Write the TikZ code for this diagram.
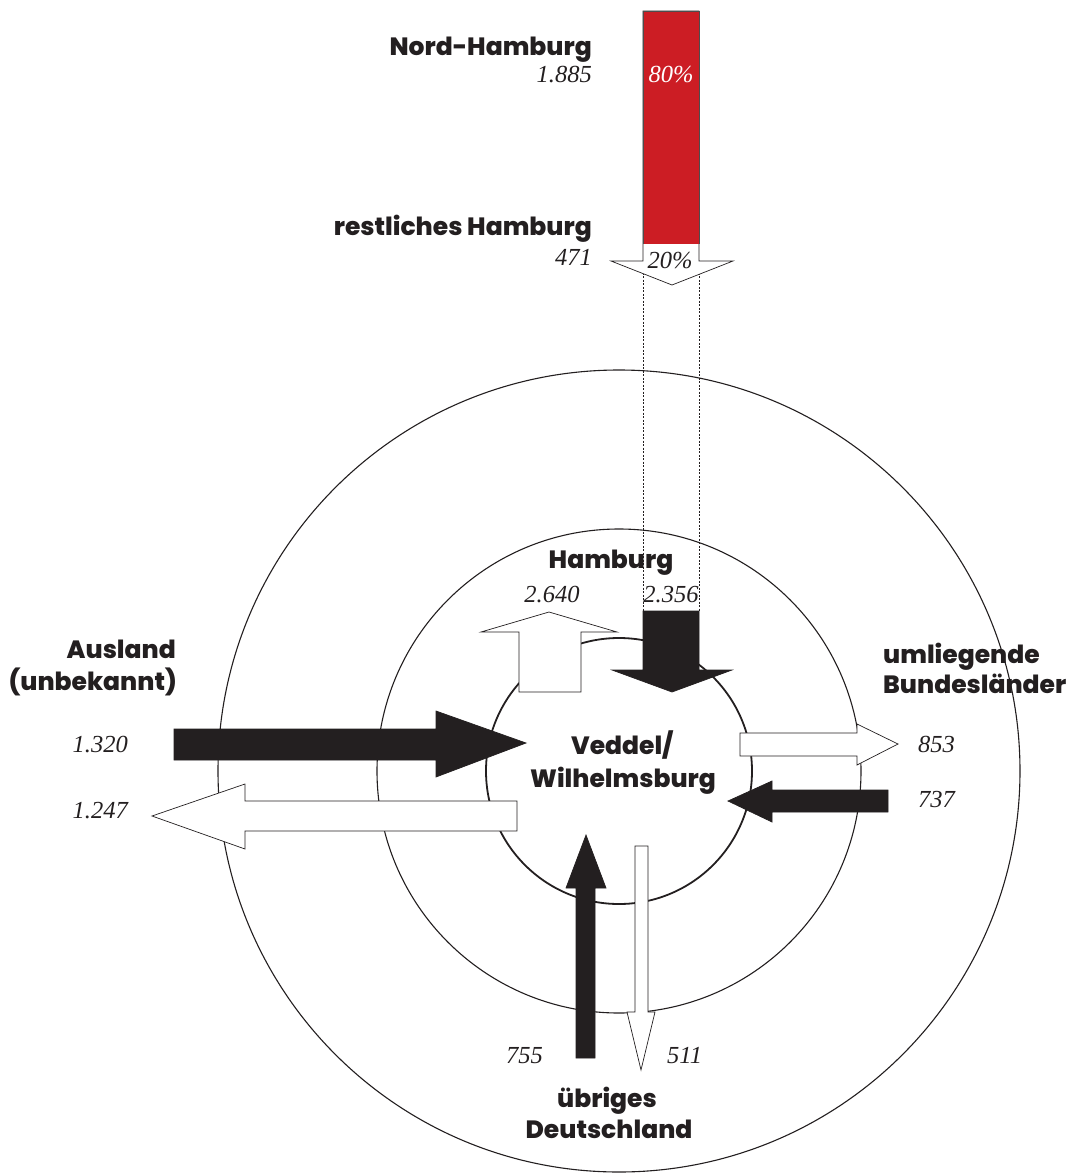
\documentclass[tikz,border=0pt]{standalone}
\usepackage{fontspec}
\setmainfont{Liberation Serif}
\newfontfamily\placefont{Poppins}[BoldFont={Poppins ExtraBold}]
\definecolor{flowdark}{HTML}{231F20}
\definecolor{flowred}{HTML}{CC1D24}
\tikzset{
  place/.style={font=\placefont\bfseries\fontsize{25}{29}\selectfont, inner sep=0pt, text=flowdark},
  num/.style={font=\itshape\fontsize{24.5}{28}\selectfont, inner sep=0pt, text=flowdark},
  ring/.style={draw=flowdark, line width=1.1pt},
  flowblack/.style={fill=flowdark, draw=flowdark, line width=0.7pt, line join=miter},
  flowwhite/.style={fill=white, draw=flowdark, line width=0.7pt, line join=miter},
  guide/.style={draw=flowdark, line width=0.7pt, dash pattern=on 2pt off 1.5pt}
}
\begin{document}
\begin{tikzpicture}[x=1pt,y=-1pt]
\useasboundingbox (0,0) rectangle (1073,1173);

% rings around the district
\coordinate (c) at (619,771);
\draw[ring] (c) circle[radius=401];
\draw[ring] (c) circle[radius=242];
\draw[ring, line width=1.8pt] (c) circle[radius=133];

% guide lines linking the split bar to the inflow arrow
\coordinate (g1a) at (643,262);
\coordinate (g1b) at (643,611);
\coordinate (g2a) at (699,262);
\coordinate (g2b) at (699,611);
\draw[guide] (g1a) -- (g1b);
\draw[guide] (g2a) -- (g2b);

% split bar: Nord-Hamburg / restliches Hamburg
\filldraw[flowwhite] (643,11) -- (699,11) -- (699,261) -- (733,261) -- (672,285)
  -- (611,261) -- (643,261) -- cycle;
\fill[flowred] (643,11) rectangle (699,244);
\draw[draw=flowdark!80, line width=0.7pt] (643,244) -- (643,11) -- (699,11) -- (699,244);

% Hamburg: inflow and outflow
\filldraw[flowblack] (643,611) -- (699,611) -- (699,670) -- (732,670) -- (672,692)
  -- (612,670) -- (643,670) -- cycle;
\filldraw[flowwhite] (519,692) -- (581,692) -- (581,632) -- (617,632) -- (549,612)
  -- (481,632) -- (519,632) -- cycle;

% Ausland
\filldraw[flowblack] (174,729) -- (436,729) -- (436,711) -- (526,743) -- (436,777)
  -- (436,760) -- (174,760) -- cycle;
\filldraw[flowwhite] (517,801) -- (245,801) -- (245,784) -- (152,816) -- (245,849)
  -- (245,831) -- (517,831) -- cycle;

% umliegende Bundeslaender
\filldraw[flowwhite] (740,733) -- (857,733) -- (857,724) -- (898,744) -- (857,765)
  -- (857,756) -- (740,756) -- cycle;
\filldraw[flowblack] (888,790) -- (772,790) -- (772,781) -- (728,801) -- (772,822)
  -- (772,812) -- (888,812) -- cycle;

% uebriges Deutschland
\filldraw[flowblack] (576,1058) -- (576,888) -- (566,888) -- (586,835) -- (606,888)
  -- (595,888) -- (595,1058) -- cycle;
\filldraw[flowwhite] (635,846) -- (648,846) -- (648,1012) -- (655,1012) -- (641,1070)
  -- (627,1012) -- (635,1012) -- cycle;

% labels
\node[place, anchor=base east] (nord) at (592,55) {Nord-Hamburg};
\node[num, anchor=base east] (nordn) at (592,82) {1.885};
\node[num, anchor=base, text=white] (p80) at (671,82) {80\%};
\node[place, anchor=base east] (rest) at (592,235) {restliches Hamburg};
\node[num, anchor=base east] (restn) at (592,265) {471};
\node[num, anchor=base] (p20) at (670,268) {20\%};

\node[place, anchor=base] (hh) at (611,568) {Hamburg};
\node[num, anchor=base] (hhout) at (552,602) {2.640};
\node[num, anchor=base] (hhin) at (671,602) {2.356};

\node[place, anchor=base] (vw1) at (622,754) {Veddel/};
\node[place, anchor=base] (vw2) at (623,787) {Wilhelmsburg};

\node[place, anchor=base east] (aus1) at (176,658) {Ausland};
\node[place, anchor=base east] (aus2) at (177,690) {(unbekannt)};
\node[num, anchor=base east] (ausin) at (128,752) {1.320};
\node[num, anchor=base east] (ausout) at (128,818) {1.247};

\node[place, anchor=base west] (bl1) at (883,663) {umliegende};
\node[place, anchor=base west] (bl2) at (883,693) {Bundesländer};
\node[num, anchor=base west] (blout) at (918,752) {853};
\node[num, anchor=base west] (blin) at (918,807) {737};

\node[num, anchor=base east] (deuin) at (543,1063) {755};
\node[num, anchor=base west] (deuout) at (667,1063) {511};
\node[place, anchor=base] (deu1) at (607,1107) {übriges};
\node[place, anchor=base] (deu2) at (609,1138) {Deutschland};
\end{tikzpicture}
\end{document}
